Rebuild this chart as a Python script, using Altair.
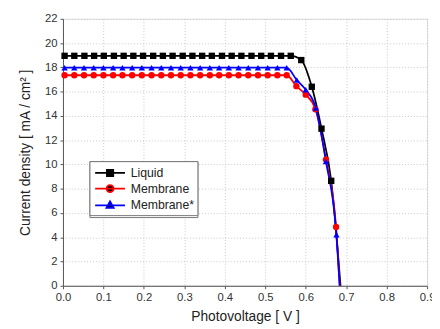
import altair as alt
import pandas as pd

series_names = ["Liquid", "Membrane", "Membrane*"]
series_colors = ["#000000", "#ff0000", "#0000ff"]

liquid_x = [0.004, 0.028, 0.053, 0.077, 0.101, 0.126, 0.150, 0.174, 0.198, 0.223, 0.247, 0.271,
            0.296, 0.320, 0.344, 0.368, 0.393, 0.417, 0.441, 0.466, 0.490, 0.514, 0.539, 0.563,
            0.589, 0.615, 0.639, 0.663]
liquid_y = [18.95] * 24 + [18.6, 16.4, 12.95, 8.65]

memb_x = [0.004, 0.028, 0.052, 0.076, 0.100, 0.124, 0.147, 0.171, 0.195, 0.219, 0.243, 0.267,
          0.291, 0.315, 0.339, 0.363, 0.386, 0.410, 0.434, 0.458, 0.482, 0.506, 0.530, 0.553,
          0.577, 0.600, 0.624, 0.650, 0.675]
memb_y = [17.35] * 24 + [16.45, 15.75, 14.55, 10.4, 4.85]

membs_x = [0.004, 0.028, 0.052, 0.076, 0.100, 0.124, 0.147, 0.171, 0.195, 0.219, 0.243, 0.267,
           0.291, 0.315, 0.339, 0.363, 0.386, 0.410, 0.434, 0.458, 0.482, 0.506, 0.530, 0.553,
           0.578, 0.600, 0.625, 0.650, 0.676]
membs_y = [17.97] * 24 + [16.95, 16.15, 14.65, 10.25, 4.2]

# where each curve meets the x axis (line only, no marker)
end_x = [0.686, 0.684, 0.684]
end_y = [0.0, 0.0, 0.0]

rows = []
for name, xs, ys in zip(series_names, [liquid_x, memb_x, membs_x], [liquid_y, memb_y, membs_y]):
    for i, (a, b) in enumerate(zip(xs, ys)):
        rows.append({"series": name, "V": a, "J": b, "order": i, "marker": True})
for i, name in enumerate(series_names):
    rows.append({"series": name, "V": end_x[i], "J": end_y[i], "order": 100, "marker": False})
df = pd.DataFrame(rows)

x_ticks = [0.0, 0.1, 0.2, 0.3, 0.4, 0.5, 0.6, 0.7, 0.8, 0.9]
y_ticks = [0, 2, 4, 6, 8, 10, 12, 14, 16, 18, 20, 22]

FONT = "Liberation Sans"

x_enc = alt.X("V:Q", scale=alt.Scale(domain=[0, 0.9], nice=False),
              axis=alt.Axis(title="Photovoltage [ V ]", values=x_ticks, format=".1f",
                            grid=True, gridColor="#c8c8c8", gridDash=[1, 2],
                            tickSize=3, labelPadding=3, titlePadding=7,
                            labelFontSize=11.5, titleFontSize=14, titleFontWeight="normal",
                            labelColor="#333", titleColor="#222", domainColor="#555",
                            tickColor="#555", labelFlush=False, labelOverlap=False))
y_enc = alt.Y("J:Q", scale=alt.Scale(domain=[0, 22], nice=False),
              axis=alt.Axis(title="Current density [ mA / cm² ]", values=y_ticks,
                            tickCount=12, format="d",
                            grid=True, gridColor="#c8c8c8", gridDash=[1, 2],
                            tickSize=3, labelPadding=3, titlePadding=12,
                            labelFontSize=11.5, titleFontSize=14, titleFontWeight="normal",
                            labelColor="#333", titleColor="#222", domainColor="#555",
                            tickColor="#555", labelOverlap=False, labelFlush=False))

color_scale = alt.Scale(domain=series_names, range=series_colors)

lines = alt.Chart(df).mark_line(interpolate="monotone", strokeWidth=1.8).encode(
    x=x_enc, y=y_enc,
    color=alt.Color("series:N", scale=color_scale, legend=None),
    order="order:Q",
)

pts = alt.Chart(df).transform_filter("datum.marker").mark_point(filled=True, size=42, opacity=1).encode(
    x=x_enc, y=y_enc,
    color=alt.Color("series:N", scale=color_scale, legend=None),
    shape=alt.Shape("series:N", scale=alt.Scale(domain=series_names,
                                                 range=["square", "circle", "triangle-up"]),
                    legend=None),
)

leg_paths = [
    "M-1.9,0H1.9M-0.4,-0.4H0.4V0.4H-0.4Z",
    "M-1.9,0H1.9M-0.45,0A0.45,0.45 0 1,0 0.45,0A0.45,0.45 0 1,0 -0.45,0Z",
    "M-1.9,0H1.9M0,-0.5L0.46,0.32L-0.46,0.32Z",
]

legend_cfg = dict(
    title=None, orient="none", legendX=27, legendY=145,
    symbolSize=256, symbolStrokeWidth=1.8, symbolOpacity=1,
    labelFontSize=12.5, labelFont=FONT, labelColor="#222", labelOffset=12,
    strokeColor="#777", fillColor="white", padding=3, rowPadding=0,
    symbolOffset=9)

leg = alt.Chart(df).transform_filter("datum.marker").mark_point(filled=False, opacity=0, size=1).encode(
    x=x_enc, y=y_enc,
    color=alt.Color("series:N", scale=color_scale, legend=alt.Legend(**legend_cfg)),
    fill=alt.Fill("series:N", scale=color_scale, legend=alt.Legend(**legend_cfg)),
    shape=alt.Shape("series:N", scale=alt.Scale(domain=series_names, range=leg_paths),
                    legend=alt.Legend(**legend_cfg)),
)

chart = alt.layer(lines, pts, leg).resolve_scale(
    color="independent", shape="independent"
).properties(
    width=371, height=272,
    autosize=alt.AutoSizeParams(type="none"),
    padding={"left": 56, "top": 8, "right": 5, "bottom": 41},
).configure_view(
    stroke="#555", strokeWidth=1
).configure(
    font=FONT, background="white"
)

chart.save("out.html", embed_options={"renderer": "svg", "actions": False})
